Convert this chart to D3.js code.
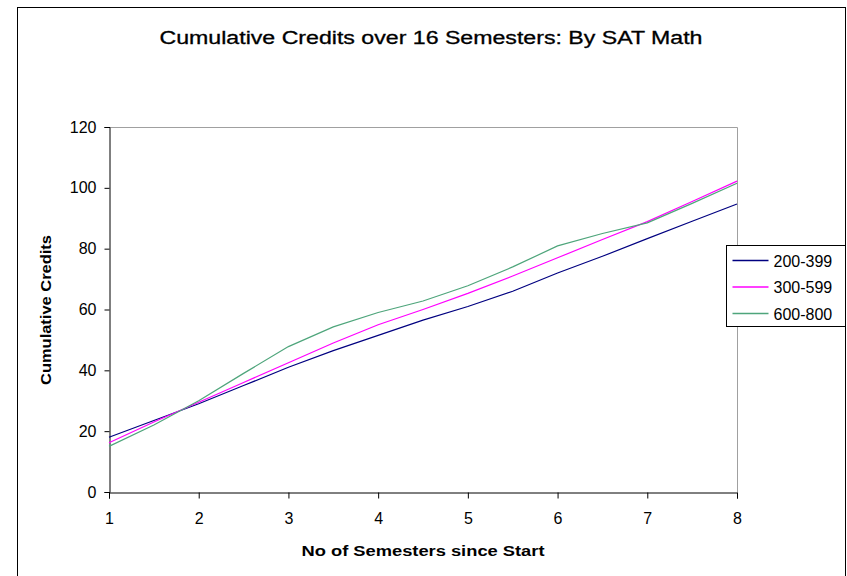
<!DOCTYPE html>
<html>
<head>
<meta charset="utf-8">
<script src="https://cdn.jsdelivr.net/npm/d3@7"></script>
<style>
  body { margin: 0; background: #fff; }
  text { font-family: "Liberation Sans", Arial, sans-serif; fill: #000; }
</style>
</head>
<body>
<div id="chart"></div>
<script>
// half-semester steps along the x axis
var semesters = [1, 1.5, 2, 2.5, 3, 3.5, 4, 4.5, 5, 5.5, 6, 6.5, 7, 7.5, 8];
var seriesNames = ["200-399", "300-599", "600-800"];
var seriesColors = ["#000080", "#ff00ff", "#4ea57b"];
var credits200 = [18, 23.5, 29, 35, 41, 46.5, 51.5, 56.5, 61, 66, 72, 77.5, 83.3, 89, 94.7];
var credits300 = [16.2, 23, 29.5, 36, 42.5, 49, 55, 60, 65.3, 71, 77, 83, 88.9, 95.5, 102.2];
var credits600 = [15, 22, 30, 39, 47.8, 54.3, 59, 62.8, 67.8, 74, 80.9, 85, 88.5, 94.9, 101.5];
var xTicks = [1, 2, 3, 4, 5, 6, 7, 8];
var yTicks = [0, 20, 40, 60, 80, 100, 120];

var width = 847, height = 576;
var margin = {top: 127, right: 110, bottom: 84, left: 109};

var svg = d3.select("#chart").append("svg")
    .attr("width", width)
    .attr("height", height);

// outer chart frame
svg.append("rect")
    .attr("x", 17.5).attr("y", 7.5)
    .attr("width", 828).attr("height", 600)
    .attr("fill", "none").attr("stroke", "#000").attr("stroke-width", 1);

var x = d3.scaleLinear().domain([1, 8]).range([margin.left, width - margin.right]);
var y = d3.scaleLinear().domain([0, 120]).range([height - margin.bottom, margin.top]);

// plot area border (top/right grey)
svg.append("path")
    .attr("d", "M" + x(1) + "," + (y(120) + 0.5) + "H" + (x(8) + 0.5) + "V" + y(0))
    .attr("fill", "none").attr("stroke", "#a0a0a0");

var yAxis = svg.append("g")
    .attr("transform", "translate(" + (x(1) + 0.5) + ",0)")
    .call(d3.axisLeft(y).tickValues(yTicks).tickFormat(d3.format("d")).tickSize(5).tickPadding(8));

var xAxis = svg.append("g")
    .attr("transform", "translate(0," + (y(0) + 0.5) + ")")
    .call(d3.axisBottom(x).tickValues(xTicks).tickFormat(d3.format("d")).tickSize(6).tickPadding(14));

[xAxis, yAxis].forEach(function(ax) {
  ax.select(".domain").attr("stroke", "#000");
  ax.selectAll(".tick line").attr("stroke", "#000");
  ax.selectAll(".tick text")
    .style("font-family", "'Liberation Sans', Arial, sans-serif")
    .style("font-size", "16px")
    .attr("fill", "#222");
});

var line = d3.line()
    .x(function(d, i) { return x(semesters[i]); })
    .y(function(d) { return y(d); });

var allSeries = [credits200, credits300, credits600];

svg.selectAll(".series")
    .data(allSeries)
  .enter().append("path")
    .attr("class", "series")
    .attr("d", line)
    .attr("fill", "none")
    .attr("stroke", function(d, i) { return seriesColors[i]; })
    .attr("stroke-width", 1.2);

// title + axis titles
svg.append("text")
    .attr("x", 431).attr("y", 44)
    .attr("text-anchor", "middle")
    .attr("textLength", 543).attr("lengthAdjust", "spacingAndGlyphs")
    .style("font-size", "18px")
    .style("stroke", "#000").style("stroke-width", 0.3)
    .text("Cumulative Credits over 16 Semesters: By SAT Math");

svg.append("text")
    .attr("x", 423).attr("y", 556)
    .attr("text-anchor", "middle")
    .attr("textLength", 243).attr("lengthAdjust", "spacingAndGlyphs")
    .style("font-size", "14px").style("font-weight", "bold")
    .text("No of Semesters since Start");

svg.append("text")
    .attr("transform", "translate(51,310) rotate(-90)")
    .attr("text-anchor", "middle")
    .attr("textLength", 150).attr("lengthAdjust", "spacingAndGlyphs")
    .style("font-size", "14px").style("font-weight", "bold")
    .text("Cumulative Credits");

// legend
var legend = svg.append("g").attr("transform", "translate(726.5,245.5)");
legend.append("rect")
    .attr("width", 119).attr("height", 81)
    .attr("fill", "#fff").attr("stroke", "#000");

var item = legend.selectAll(".item")
    .data(seriesNames)
  .enter().append("g")
    .attr("class", "item")
    .attr("transform", function(d, i) { return "translate(0," + (15 + i * 26.5) + ")"; });

item.append("line")
    .attr("x1", 6).attr("x2", 42)
    .attr("stroke", function(d, i) { return seriesColors[i]; })
    .attr("stroke-width", 1.5);

item.append("text")
    .attr("x", 47).attr("y", 6)
    .style("font-size", "16px")
    .attr("fill", "#222")
    .text(function(d) { return d; });
</script>
</body>
</html>
